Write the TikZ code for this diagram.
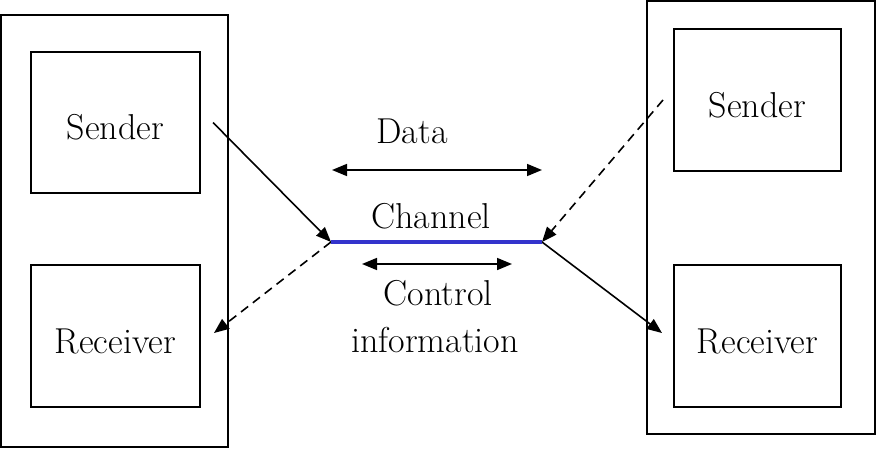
\documentclass[tikz,border=0pt]{standalone}
\usepackage{fontspec}
\usetikzlibrary{arrows.meta}
\definecolor{chanblue}{RGB}{51,51,204}
\tikzset{
	host/.style={draw, line width=2pt, inner sep=0pt},
	unit/.style={draw, line width=2pt, inner sep=0pt, text height=34pt, text depth=0pt},
	flow/.style={line width=1.6pt, -{Triangle[length=15pt,width=12pt]}},
	back/.style={flow, dash pattern=on 9pt off 6pt},
	twoway/.style={line width=1.6pt, {Triangle[length=15pt,width=12pt]}-{Triangle[length=15pt,width=12pt]}},
	channel/.style={line width=3.5pt, chanblue},
}
\begin{document}
\begin{tikzpicture}[x=1pt, y=-1pt, font=\fontsize{36}{47}\selectfont]
		\useasboundingbox (0,0) rectangle (877,450);
		\node[host, minimum width=227pt, minimum height=432pt] (lhost) at (114.5,231) {};
		\node[unit, minimum width=169pt, minimum height=141pt] (lsend) at (115.5,122.5) {Sender};
		\node[unit, minimum width=169pt, minimum height=142pt] (lrecv) at (115.5,336) {Receiver};
		\node[host, minimum width=228pt, minimum height=433pt] (rhost) at (761,217.5) {};
		\node[unit, minimum width=167pt, minimum height=142pt] (rsend) at (757.5,100) {Sender};
		\node[unit, minimum width=167pt, minimum height=142pt] (rrecv) at (757.5,336) {Receiver};
		\coordinate (chL) at (331,242);
		\coordinate (chR) at (542,242);
		\coordinate (dataL) at (332,170);
		\coordinate (dataR) at (542,170);
		\coordinate (ctrlL) at (362,264);
		\coordinate (ctrlR) at (512,264);
		\node[anchor=base] (data) at (412,143) {Data};
		\node[anchor=base] (chan) at (431,228) {Channel};
		\node[anchor=base] (ctrl) at (438,305) {Control};
		\node[anchor=base] (info) at (435,352) {information};
		\draw[twoway] (dataL) -- (dataR);
		\draw[twoway] (ctrlL) -- (ctrlR);
		\draw[flow] ([xshift=12pt]lsend.east) -- (chL);
		\draw[back] (chL) -- ([xshift=13pt,yshift=3pt]lrecv.east);
		\draw[back] ([xshift=-10pt]rsend.west) -- (chR);
		\draw[flow] (chR) -- ([xshift=-11pt,yshift=3pt]rrecv.west);
		\draw[channel] (chL) -- (chR);
	\end{tikzpicture}
\end{document}
